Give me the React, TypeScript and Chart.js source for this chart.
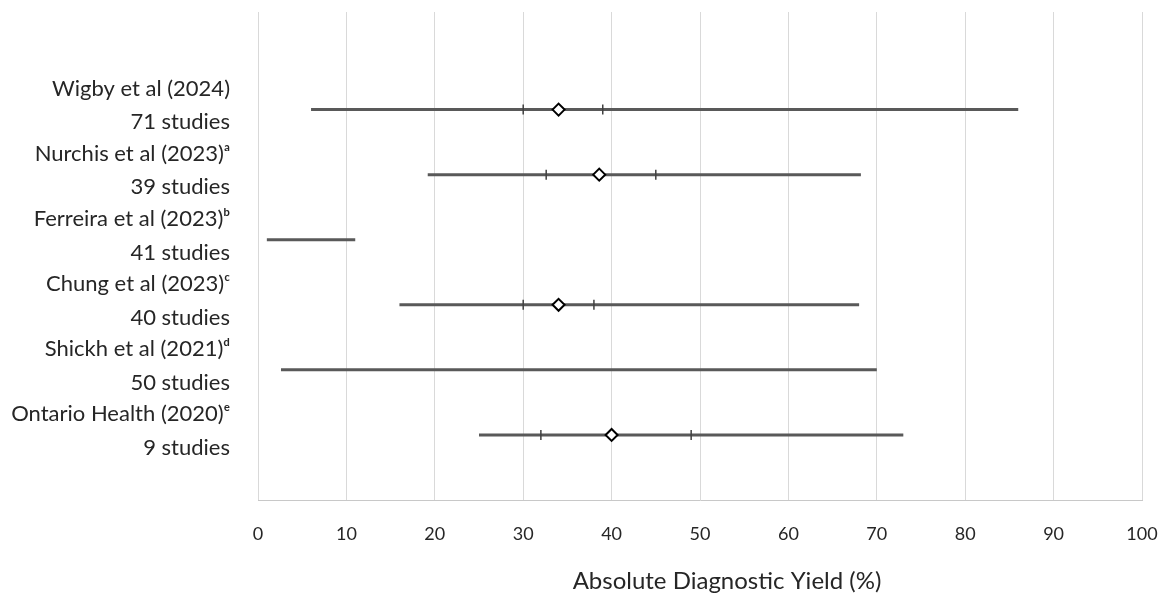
import React, { useEffect, useRef } from "react";
import { Chart, registerables } from "chart.js";

Chart.register(...registerables);

const studyNames = [
  "Wigby et al (2024)",
  "Nurchis et al (2023)ᵃ",
  "Ferreira et al (2023)ᵇ",
  "Chung et al (2023)ᶜ",
  "Shickh et al (2021)ᵈ",
  "Ontario Health (2020)ᵉ",
];
const studyCounts = ["71 studies", "39 studies", "41 studies", "40 studies", "50 studies", "9 studies"];
const rangeLow = [6, 19.2, 1, 16, 2.6, 25];
const rangeHigh = [86, 68.2, 11, 68, 70, 73];
const ciLow: (number | null)[] = [30, 32.6, null, 30, null, 32];
const ciHigh: (number | null)[] = [39, 45, null, 38, null, 49];
const pooledYield: (number | null)[] = [34, 38.6, null, 34, null, 40];
const xTickValues = [0, 10, 20, 30, 40, 50, 60, 70, 80, 90, 100];
const xTitle = "Absolute Diagnostic Yield (%)";

const FONT = "Lato";
const TEXT = "#262626";

export default function App() {
  const ref = useRef<HTMLCanvasElement | null>(null);

  useEffect(() => {
    if (!ref.current) return;
    const n = studyNames.length;
    const rowY = (i: number) => n - i;

    const rangeSets = studyNames.map((_, i) => ({
      label: "range-" + i,
      data: [
        { x: rangeLow[i], y: rowY(i) },
        { x: rangeHigh[i], y: rowY(i) },
      ],
      showLine: true,
      borderColor: "#595959",
      borderWidth: 3,
      pointRadius: 0,
      pointHoverRadius: 0,
    }));

    const ciPoints: { x: number; y: number }[] = [];
    studyNames.forEach((_, i) => {
      if (ciLow[i] != null) ciPoints.push({ x: ciLow[i] as number, y: rowY(i) });
      if (ciHigh[i] != null) ciPoints.push({ x: ciHigh[i] as number, y: rowY(i) });
    });
    const pooledPoints: { x: number; y: number }[] = [];
    studyNames.forEach((_, i) => {
      if (pooledYield[i] != null) pooledPoints.push({ x: pooledYield[i] as number, y: rowY(i) });
    });

    const titlePlugin = {
      id: "xTitle",
      afterDraw(chart: any) {
        const { ctx, chartArea } = chart;
        ctx.save();
        ctx.font = `24px ${FONT}`;
        ctx.fillStyle = TEXT;
        ctx.textAlign = "center";
        ctx.textBaseline = "middle";
        ctx.fillText(xTitle, (chartArea.left + chartArea.right) / 2 + 27, 581);
        ctx.restore();
      },
    };

    const chart = new Chart(ref.current, {
      type: "scatter",
      data: {
        datasets: [
          {
            label: "pooled",
            data: pooledPoints,
            pointStyle: "rectRot",
            pointRadius: 6,
            pointHoverRadius: 6,
            backgroundColor: "#ffffff",
            borderColor: "#000000",
            borderWidth: 2,
          },
          {
            label: "ci",
            data: ciPoints,
            pointStyle: "line",
            rotation: 90,
            pointRadius: 5,
            pointHoverRadius: 5,
            borderColor: "#404040",
            borderWidth: 1.5,
          },
          ...rangeSets,
        ] as any,
      },
      plugins: [titlePlugin],
      options: {
        animation: false,
        responsive: true,
        maintainAspectRatio: false,
        layout: { padding: { top: 12, right: 21, left: 0, bottom: 0 } },
        plugins: {
          legend: { display: false },
          tooltip: { enabled: false },
        },
        scales: {
          x: {
            type: "linear",
            min: 0,
            max: 100,
            afterBuildTicks: (scale: any) => {
              scale.ticks = xTickValues.map((v) => ({ value: v }));
            },
            afterFit: (scale: any) => {
              scale.height = 93;
              scale.paddingLeft = 0;
              scale.paddingRight = 0;
            },
            grid: { color: "#d9d9d9", lineWidth: 1, drawTicks: false },
            border: { display: true, color: "#c8c8c8", width: 1 },
            ticks: {
              padding: 23,
              color: TEXT,
              font: { family: FONT, size: 18 },
              maxRotation: 0,
            },
          },
          y: {
            type: "linear",
            min: 0,
            max: 7.5,
            afterBuildTicks: (scale: any) => {
              scale.ticks = studyNames.map((_, i) => ({ value: rowY(i) }));
            },
            afterFit: (scale: any) => {
              scale.width = 258;
              scale.paddingTop = 0;
              scale.paddingBottom = 0;
            },
            grid: { display: false, drawTicks: false },
            border: { display: false },
            ticks: {
              padding: 28,
              color: TEXT,
              labelOffset: -4,
              font: { family: FONT, size: 22, lineHeight: 1.52 },
              callback: (value: any) => {
                const i = n - Number(value);
                return [studyNames[i], studyCounts[i]];
              },
            },
          },
        },
      } as any,
    });
    return () => chart.destroy();
  }, []);

  return (
    <div style={{ position: "fixed", left: 0, top: 0, width: 1163, height: 593, background: "#fff" }}>
      <canvas ref={ref} />
    </div>
  );
}
